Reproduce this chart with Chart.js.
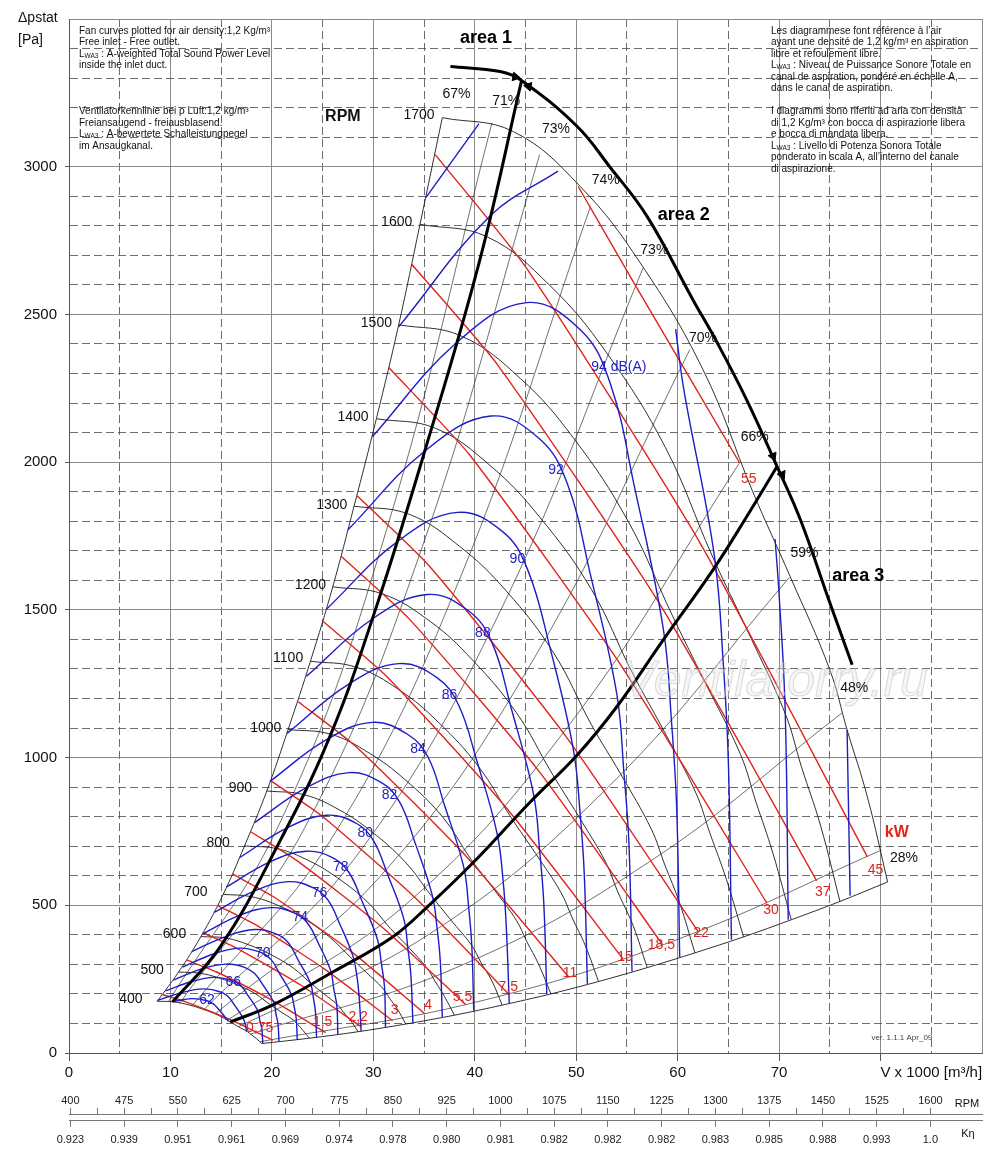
<!DOCTYPE html>
<html>
<head>
<meta charset="utf-8">
<script src="https://cdn.jsdelivr.net/npm/chart.js@4.4.0/dist/chart.umd.min.js"></script>
<style>
html, body { margin: 0; padding: 0; background: #fff; }
canvas { display: block; }
</style>
</head>
<body>
<canvas id="fanChart" width="1000" height="1160"></canvas>
<script>
// fan curves, V x 1000 m3/h against static pressure Pa
const speedLabels = [400, 500, 600, 700, 800, 900, 1000, 1100, 1200, 1300, 1400, 1500, 1600, 1700];
const speedCurves = [
  [[8.7,175],[10.3,173],[11.9,162],[13.2,148],[14.7,128],[15.9,105],[16.7,89],[17.6,72],[18.0,61],[18.5,48],[19.0,32]],
  [[10.8,274],[12.9,270],[14.8,254],[16.6,231],[18.4,200],[19.8,164],[20.9,139],[22.1,112],[22.6,95],[23.1,75],[23.7,50]],
  [[13.0,394],[15.5,389],[17.8,365],[19.9,333],[22.1,288],[23.8,237],[25.1,201],[26.5,162],[27.1,136],[27.8,108],[28.5,72]],
  [[15.2,537],[18.0,529],[20.8,497],[23.2,454],[25.7,392],[27.8,322],[29.3,273],[30.9,220],[31.6,185],[32.4,147],[33.2,98]],
  [[17.3,701],[20.6,691],[23.7,650],[26.5,592],[29.4,512],[31.7,421],[33.5,357],[35.3,287],[36.1,242],[37.0,192],[38.0,128]],
  [[19.5,887],[23.2,874],[26.7,822],[29.8,750],[33.1,648],[35.7,533],[37.6,452],[39.7,364],[40.6,307],[41.7,243],[42.7,162]],
  [[21.6,1095],[25.8,1079],[29.6,1015],[33.1,926],[36.8,800],[39.6,657],[41.8,558],[44.1,449],[45.1,379],[46.3,300],[47.5,200]],
  [[23.8,1326],[28.3,1306],[32.6,1228],[36.4,1120],[40.4,968],[43.6,796],[46.0,675],[48.5,543],[49.6,458],[50.9,363],[52.2,242]],
  [[26.0,1578],[30.9,1554],[35.6,1461],[39.7,1333],[44.1,1152],[47.6,947],[50.2,803],[52.9,646],[54.1,545],[55.6,432],[57.0,289]],
  [[28.1,1851],[33.5,1824],[38.5,1715],[43.1,1564],[47.8,1353],[51.5,1111],[54.4,943],[57.4,758],[58.7,640],[60.2,507],[61.7,339]],
  [[30.3,2147],[36.1,2115],[41.5,1989],[46.4,1814],[51.5,1569],[55.5,1289],[58.6,1093],[61.8,880],[63.2,742],[64.8,588],[66.5,393]],
  [[32.5,2465],[38.6,2428],[44.5,2283],[49.7,2083],[55.1,1801],[59.5,1479],[62.7,1255],[66.2,1010],[67.7,852],[69.4,675],[71.2,451]],
  [[34.6,2805],[41.2,2763],[47.4,2598],[53.0,2370],[58.8,2049],[63.4,1683],[66.9,1428],[70.6,1149],[72.2,969],[74.1,768],[76.0,513]],
  [[36.8,3166],[43.8,3119],[50.4,2933],[56.3,2675],[62.5,2313],[67.4,1900],[71.1,1612],[75.0,1297],[76.7,1094],[78.7,867],[80.7,579]]
];
// left edge (curve starts) and lower edge (curve ends)
const stallLine = [[8.7,175],[10.8,274],[13.0,394],[15.2,537],[17.3,701],[19.5,887],[21.6,1095],[23.8,1326],[26.0,1578],[28.1,1851],[30.3,2147],[32.5,2465],[34.6,2805],[36.8,3166]];
const limitLine = [[19.0,32],[23.7,50],[28.5,72],[33.2,98],[38.0,128],[42.7,162],[47.5,200],[52.2,242],[57.0,289],[61.7,339],[66.5,393],[71.2,451],[76.0,513],[80.7,579]];

// efficiency lines (67% is the left edge itself)
const efficiencyLabels = ['67%', '71%', '73%', '74%', '73%', '70%', '66%', '59%', '48%', '28%'];
const efficiencyLines = [
  [[9.8,174],[20.9,787],[31.3,1771],[41.7,3149]],
  [[10.9,168],[23.2,760],[34.8,1711],[46.4,3041]],
  [[12.1,159],[25.7,716],[38.6,1612],[51.4,2865]],
  [[13.3,147],[28.3,665],[42.5,1495],[56.6,2658]],
  [[14.4,132],[30.6,595],[45.9,1339],[61.2,2381]],
  [[15.6,111],[33.1,500],[49.6,1124],[66.1,1998]],
  [[16.7,89],[35.5,402],[53.3,905],[71.0,1609]],
  [[17.9,64],[38.1,288],[57.2,647],[76.2,1151]],
  [[18.8,38],[40.1,172],[60.1,386],[80.1,687]]
];

// sound power level curves LWA3, dB(A); null splits a curve cut by the outer fan curve
const soundLevels = [62, 64, 66, 68, 70, 72, 74, 76, 78, 80, 82, 84, 86, 88, 90, 92, 94, 96, 98, 100];
const soundCurves = [
  [[10.3,174],[12.1,184],[13.6,177],[14.3,164],[15.0,138],[15.7,108]],
  [[8.7,178],[11.2,205],[13.2,217],[14.7,209],[15.6,194],[16.3,163],[17.1,122],[17.4,95],[17.5,72]],
  [[9.5,210],[12.1,242],[14.3,256],[16.0,246],[16.9,229],[17.7,192],[18.6,144],[18.8,112],[19.0,84],[19.1,33]],
  [[10.3,247],[13.1,285],[15.5,301],[17.3,290],[18.3,269],[19.2,226],[20.2,170],[20.4,132],[20.6,99],[20.7,39]],
  [[11.2,291],[14.3,336],[16.8,355],[18.8,342],[19.9,317],[20.8,266],[21.9,200],[22.2,156],[22.4,116],[22.5,45]],
  [[12.1,343],[15.5,395],[18.3,418],[20.4,403],[21.6,374],[22.6,314],[23.8,236],[24.1,184],[24.3,137],[24.4,53]],
  [[13.2,404],[16.8,466],[19.9,492],[22.2,474],[23.5,440],[24.6,370],[25.8,278],[26.1,217],[26.4,161],[26.5,63]],
  [[14.3,476],[18.3,549],[21.6,580],[24.1,559],[25.5,519],[26.7,436],[28.0,327],[28.4,255],[28.6,190],[28.8,74]],
  [[15.5,561],[19.8,647],[23.4,683],[26.1,659],[27.6,611],[28.9,513],[30.4,385],[30.8,301],[31.1,224],[31.2,87]],
  [[16.8,661],[21.5,762],[25.4,805],[28.4,776],[30.0,720],[31.4,605],[33.0,454],[33.4,355],[33.7,264],[33.9,103]],
  [[18.3,780],[23.4,898],[27.6,949],[30.8,915],[32.6,849],[34.1,713],[35.8,535],[36.3,418],[36.6,311],[36.8,121]],
  [[19.8,919],[25.3,1059],[29.9,1119],[33.4,1078],[35.4,1001],[37.0,840],[38.9,631],[39.4,492],[39.7,367],[39.9,143]],
  [[21.5,1082],[27.5,1247],[32.5,1318],[36.3,1270],[38.4,1178],[40.2,989],[42.2,743],[42.8,580],[43.1,432],[43.4,169]],
  [[23.4,1275],[29.9,1469],[35.3,1552],[39.4,1496],[41.7,1389],[43.6,1166],[45.8,875],[46.4,683],[46.8,509],[47.1,199]],
  [[25.4,1503],[32.4,1732],[38.3,1830],[42.8,1763],[45.2,1637],[47.4,1374],[49.7,1031],[50.4,805],[50.8,600],[51.1,234]],
  [[27.5,1771],[35.2,2041],[41.6,2156],[46.4,2078],[49.1,1929],[51.4,1619],[54.0,1215],[54.7,949],[55.2,707],[55.5,276]],
  [[29.9,2086],[38.2,2404],[45.1,2540],[50.4,2448],[53.3,2272],[55.8,1907],[58.6,1432],[59.4,1118],[59.9,833],[60.2,325]],
  [[32.5,2458],[41.5,2833],[48.2,2985], null, [59.8,2450],[60.6,2247],[63.6,1687],[64.5,1317],[65.0,982],[65.3,383]],
  [[35.2,2896],[40.4,3145], null, [69.6,1740],[70.0,1552],[70.6,1157],[70.9,451]],
  [[76.7,1094],[77.0,532]]
];
const soundLabels = ['62', '66', '70', '74', '76', '78', '80', '82', '84', '86', '88', '90', '92', '94 dB(A)'];

// shaft power lines, kW
const powerLabels = ['0,75', '1,5', '2,2', '3', '4', '5,5', '7,5', '11', '15', '18,5', '22', '30', '37', '45', '55'];
const powerCurves = [
  [[9.2,198],[11.5,173],[15.9,113],[20.1,43]],
  [[11.6,315],[14.5,275],[20.0,179],[25.3,69]],
  [[13.2,407],[16.5,355],[22.8,231],[28.8,89]],
  [[14.6,500],[18.3,436],[25.2,284],[31.9,109]],
  [[16.1,606],[20.2,528],[27.8,344],[35.1,132]],
  [[17.9,749],[22.4,653],[30.9,425],[39.1,164]],
  [[19.9,921],[24.9,803],[34.2,523],[43.3,201]],
  [[22.6,1189],[28.3,1037],[38.9,675],[49.2,260]],
  [[25.0,1462],[31.3,1275],[43.1,830],[54.6,319]],
  [[26.8,1682],[33.6,1467],[46.3,955],[58.5,367]],
  [[28.4,1886],[35.6,1645],[49.0,1071],[62.0,412]],
  [[31.5,2321],[39.5,2024],[54.3,1318],[68.8,507]],
  [[33.8,2669],[42.3,2327],[58.3,1516],[73.7,583]],
  [[36.1,3041],[45.2,2652],[62.2,1727],[78.7,664]],
  [[50.2,2933],[55.9,2594],[66.1,1998]]
];

// operating areas
const area1Line = [[10.2,173],[14.9,359],[20.5,698],[25.7,1070],[30.2,1500],[34.9,2018],[40.5,2685],[44.6,3290]];
const area2Line = [[37.6,3339],[42.5,3322],[44.6,3292],[50.1,3136],[53.3,3000],[57.0,2831],[61.5,2550],[63.9,2404],[66.8,2211],[69.8,1985],[72.1,1805],[75.0,1524],[77.2,1314]];
const area3Line = [[15.9,105],[20.1,163],[26.0,274],[31.9,393],[35.3,494],[39.8,643],[45.4,847],[50.1,1009],[54.0,1172],[58.6,1399],[63.5,1636],[66.8,1815],[69.8,1985]];
const arrowPoints = [[44.0,3304],[45.3,3272],[69.4,2020],[70.3,1958]];

// axes
const flowTicks = [0, 10, 20, 30, 40, 50, 60, 70];
const pressureTicks = [0, 500, 1000, 1500, 2000, 2500, 3000];
const rpmScale = [400, 475, 550, 625, 700, 775, 850, 925, 1000, 1075, 1150, 1225, 1300, 1375, 1450, 1525, 1600];
const ketaScale = ['0.923', '0.939', '0.951', '0.961', '0.969', '0.974', '0.978', '0.980', '0.981', '0.982', '0.982', '0.982', '0.983', '0.985', '0.988', '0.993', '1.0'];

const FONT = "'Liberation Sans', Arial, Helvetica, sans-serif";
const NARROW = "'Liberation Sans Narrow', 'Liberation Sans', Arial, sans-serif";

// where the labels sit (data units)
const speedLabelAt = [[6.1,183],[8.2,281],[10.4,403],[12.5,545],[14.7,711],[16.9,897],[19.4,1101],[21.6,1338],[23.8,1585],[25.9,1856],[28.0,2154],[30.3,2472],[32.3,2811],[34.5,3173]];
const efficiencyLabelAt = [[38.2,3244],[43.1,3221],[48.0,3126],[52.9,2956],[57.7,2719],[62.5,2421],[67.6,2083],[72.5,1693],[77.4,1236],[82.3,660]];
const soundLabelAt = [[13.6,179],[16.2,240],[19.1,339],[22.8,461],[24.7,542],[26.8,630],[29.2,745],[31.6,874],[34.4,1029],[37.5,1212],[40.8,1422],[44.2,1673],[48.0,1974],[54.2,2323]];
const powerLabelAt = [[18.8,85],[25.0,105],[28.5,122],[32.1,146],[35.4,163],[38.8,190],[43.3,224],[49.4,271],[54.8,325],[58.4,366],[62.3,406],[69.2,484],[74.3,545],[79.5,620],[67.0,1944]];

const datasets = [];
function pts(a) { return a.map(p => ({ x: p[0], y: p[1] })); }
function pieces(a) {
  const out = [[]];
  a.forEach(p => { if (p) out[out.length - 1].push(p); else out.push([]); });
  return out.filter(s => s.length > 1);
}
function curve(a, color, width, order, tension) {
  pieces(a).forEach(s => datasets.push({
    data: pts(s), showLine: true, borderColor: color, borderWidth: width,
    pointRadius: 0, pointHoverRadius: 0, tension: tension, order: order
  }));
}
speedCurves.forEach(c => curve(c, '#1a1a1a', 0.9, 3, 0.4));
curve(stallLine, '#1a1a1a', 0.9, 3, 0.4);
curve(limitLine, '#1a1a1a', 0.9, 3, 0.3);
efficiencyLines.forEach(c => curve(c, '#333', 0.7, 3, 0.4));
powerCurves.forEach(c => curve(c, '#e0231b', 1.4, 2, 0.2));
soundCurves.forEach(c => curve(c, '#1d1dc6', 1.4, 1, 0.4));
[area1Line, area2Line, area3Line].forEach(c => curve(c, '#000', 3, 0, 0.4));
datasets.push({
  data: pts(arrowPoints), showLine: false, pointStyle: 'triangle', pointRadius: 5,
  rotation: [100, -80, 157, 35], backgroundColor: '#000', borderColor: '#000', order: 0
});

const majorX = v => v % 10 === 0;
const majorY = v => v % 500 === 0;

function rich(ctx, parts, x, y) {
  parts.forEach(p => {
    ctx.font = p[1] + 'px ' + FONT;
    ctx.fillText(p[0], x, y + (p[2] || 0));
    x += ctx.measureText(p[0]).width;
  });
}

const overlay = {
  id: 'overlay',
  afterDatasetsDraw(chart) {
    const { ctx, scales } = chart;
    const X = v => scales.x.getPixelForValue(v);
    const Y = v => scales.y.getPixelForValue(v);
    const put = (t, vx, vy, font, color, align) => {
      ctx.font = font; ctx.fillStyle = color; ctx.textAlign = align || 'center';
      ctx.fillText(t, X(vx), Y(vy));
    };
    ctx.save();
    ctx.textBaseline = 'middle';

    // watermark
    ctx.font = 'italic 50px ' + FONT;
    ctx.textAlign = 'center';
    ctx.fillStyle = 'rgba(230,230,230,0.35)';
    ctx.fillText('Ventilatorry.ru', X(69.6), Y(1256));
    ctx.strokeStyle = 'rgba(185,185,185,0.5)';
    ctx.lineWidth = 1;
    ctx.strokeText('Ventilatorry.ru', X(69.6), Y(1256));

    speedLabels.forEach((s, i) => put(String(s), speedLabelAt[i][0], speedLabelAt[i][1], '14px ' + FONT, '#111'));
    efficiencyLabels.forEach((s, i) => put(s, efficiencyLabelAt[i][0], efficiencyLabelAt[i][1], '14px ' + FONT, '#111'));
    soundLabels.forEach((s, i) => put(s, soundLabelAt[i][0], soundLabelAt[i][1], '14px ' + FONT, '#2222c8'));
    powerLabels.forEach((s, i) => put(s, powerLabelAt[i][0], powerLabelAt[i][1], '14px ' + FONT, '#e0231b'));
    put('kW', 81.6, 745, 'bold 16px ' + FONT, '#e0231b');
    put('RPM', 27.0, 3170, 'bold 16px ' + FONT, '#111');
    put('area 1', 41.1, 3437, 'bold 18px ' + FONT, '#000');
    put('area 2', 60.6, 2838, 'bold 18px ' + FONT, '#000');
    put('area 3', 77.8, 1615, 'bold 18px ' + FONT, '#000');
    put('ver. 1.1.1 Apr_09', 82.1, 51, '8px ' + FONT, '#444');

    // notes
    ctx.fillStyle = '#111';
    ctx.textAlign = 'left';
    const lx = 79, rx = 771;
    rich(ctx, [['Fan curves plotted for air density:1,2 Kg/m³', 10]], lx, 31);
    rich(ctx, [['Free inlet - Free outlet.', 10]], lx, 42.5);
    rich(ctx, [['L', 10], ['WA3', 6.5, 2], [' : A-weighted Total Sound Power Level', 10]], lx, 54);
    rich(ctx, [['inside the inlet duct.', 10]], lx, 65.5);
    rich(ctx, [['Ventilatorkennlinie bei ρ Luft:1,2 kg/m³', 10]], lx, 111);
    rich(ctx, [['Freiansaugend - freiausblasend.', 10]], lx, 123);
    rich(ctx, [['L', 10], ['WA3', 6.5, 2], [' : A-bewertete Schalleistungpegel', 10]], lx, 134.5);
    rich(ctx, [['im Ansaugkanal.', 10]], lx, 146);

    rich(ctx, [['Les diagrammese font référence à l’air', 10]], rx, 31);
    rich(ctx, [['ayant une densité de 1,2 kg/m³ en aspiration', 10]], rx, 42.5);
    rich(ctx, [['libre et refoulement libre.', 10]], rx, 54);
    rich(ctx, [['L', 10], ['WA3', 6.5, 2], [' : Niveau de Puissance Sonore Totale en', 10]], rx, 65.5);
    rich(ctx, [['canal de aspiration, pondéré en échelle A,', 10]], rx, 77);
    rich(ctx, [['dans le canal de aspiration.', 10]], rx, 88.5);
    rich(ctx, [['I diagrammi sono riferiti ad aria con densità', 10]], rx, 111);
    rich(ctx, [['di 1,2 Kg/m³ con bocca di aspirazione libera', 10]], rx, 123);
    rich(ctx, [['e bocca di mandata libera.', 10]], rx, 134.5);
    rich(ctx, [['L', 10], ['WA3', 6.5, 2], [' : Livello di Potenza Sonora Totale', 10]], rx, 146);
    rich(ctx, [['ponderato in scala A, all’interno del canale', 10]], rx, 157.5);
    rich(ctx, [['di aspirazione.', 10]], rx, 169);

    // axis captions
    rich(ctx, [['Δpstat', 14]], 18, 18);
    rich(ctx, [['[Pa]', 14]], 18, 40);
    ctx.font = '11px ' + NARROW;
    ctx.textAlign = 'center';
    ctx.fillText('RPM', 967, 1104);
    ctx.fillText('Kη', 968, 1134);
    ctx.restore();
  }
};

new Chart(document.getElementById('fanChart'), {
  type: 'scatter',
  data: { datasets: datasets },
  options: {
    responsive: false,
    animation: false,
    events: [],
    layout: { padding: { left: 0, right: 18, top: 19, bottom: 10 } },
    plugins: { legend: { display: false }, tooltip: { enabled: false } },
    scales: {
      x: {
        type: 'linear', position: 'bottom', weight: 0, min: 0, max: 90,
        ticks: {
          stepSize: 5, autoSkip: false, maxRotation: 0, padding: 3,
          font: { family: FONT, size: 15 }, color: '#111',
          callback: v => flowTicks.includes(v) ? String(v) : (v === 85 ? 'V x 1000 [m³/h]' : '')
        },
        grid: {
          color: c => c.tick && majorX(c.tick.value) ? '#8a8a8a' : '#5a5a5a',
          lineWidth: c => c.tick && majorX(c.tick.value) ? 1 : 0.9,
          tickLength: 8,
          tickColor: c => c.tick && majorX(c.tick.value) && c.tick.value < 90 ? '#555' : 'rgba(0,0,0,0)'
        },
        border: { display: true, color: '#555', dash: c => c.tick && !majorX(c.tick.value) ? [8, 4] : [] },
        afterFit: s => { s.height = 61; }
      },
      rpm: {
        type: 'linear', position: 'bottom', weight: 1, min: 398, max: 1672,
        afterBuildTicks: s => {
          const t = [];
          rpmScale.forEach((v, i) => {
            t.push({ value: v });
            if (i < rpmScale.length - 1) t.push({ value: (v + rpmScale[i + 1]) / 2 });
          });
          s.ticks = t;
        },
        ticks: {
          autoSkip: false, maxRotation: 0, mirror: true, padding: 6,
          font: { family: NARROW, size: 11 }, color: '#222',
          callback: v => rpmScale.includes(v) ? String(v) : ''
        },
        grid: { drawOnChartArea: false, drawTicks: true, tickLength: -6, tickColor: '#777', tickWidth: 1 },
        border: { display: true, color: '#777', width: 1 },
        afterFit: s => { s.height = 6; }
      },
      keta: {
        type: 'linear', position: 'bottom', weight: 2, min: 398, max: 1672,
        afterBuildTicks: s => { s.ticks = rpmScale.map(v => ({ value: v })); },
        ticks: {
          autoSkip: false, maxRotation: 0, padding: 6,
          font: { family: NARROW, size: 11 }, color: '#222',
          callback: (v, i) => ketaScale[i]
        },
        grid: { drawOnChartArea: false, drawTicks: true, tickLength: 7, tickColor: '#777', tickWidth: 1 },
        border: { display: true, color: '#777', width: 1 },
        afterFit: s => { s.height = 30; }
      },
      y: {
        type: 'linear', position: 'left', min: 0, max: 3500,
        ticks: {
          stepSize: 100, autoSkip: false, padding: 8,
          font: { family: FONT, size: 15 }, color: '#111',
          callback: v => pressureTicks.includes(v) ? String(v) : ''
        },
        grid: {
          color: c => c.tick && majorY(c.tick.value) ? '#8a8a8a' : '#5a5a5a',
          lineWidth: c => c.tick && majorY(c.tick.value) ? 1 : 0.9,
          tickLength: 4,
          tickColor: c => c.tick && majorY(c.tick.value) && c.tick.value < 3500 ? '#555' : 'rgba(0,0,0,0)'
        },
        border: { display: true, color: '#555', dash: c => c.tick && !majorY(c.tick.value) ? [8, 4] : [] },
        afterFit: s => { s.width = 69; }
      }
    }
  },
  plugins: [overlay]
});
</script>
</body>
</html>
